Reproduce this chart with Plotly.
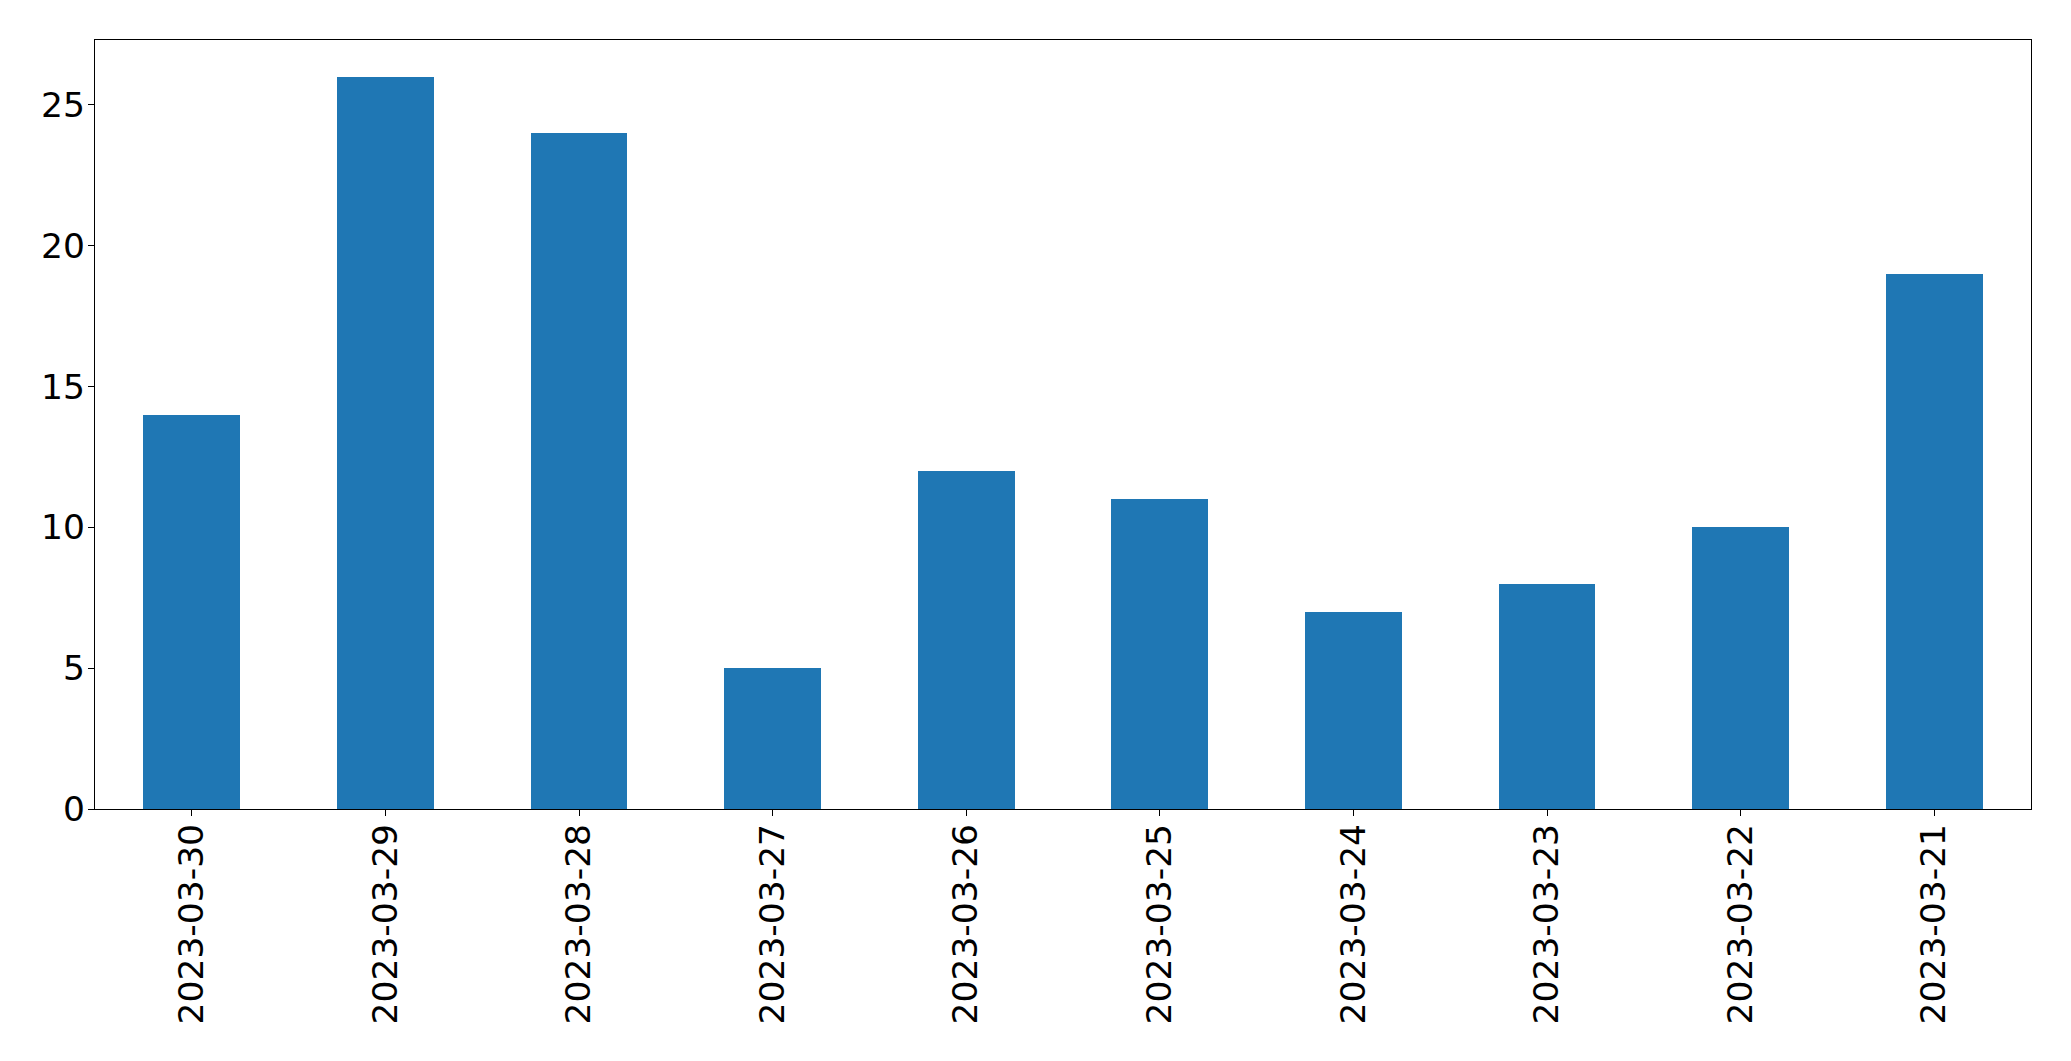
import plotly.graph_objects as go

dates = ["2023-03-30", "2023-03-29", "2023-03-28", "2023-03-27", "2023-03-26",
         "2023-03-25", "2023-03-24", "2023-03-23", "2023-03-22", "2023-03-21"]
counts = [14, 26, 24, 5, 12, 11, 7, 8, 10, 19]
y_ticks = [0, 5, 10, 15, 20, 25]

fig = go.Figure(go.Bar(x=dates, y=counts, width=0.5, marker=dict(color="#1f77b4", line=dict(width=0))))

W, H = 2071, 1061
FS = 34.5
fig.update_layout(
    width=W, height=H,
    margin=dict(l=94.5, r=40, t=39.5, b=252, pad=0),
    paper_bgcolor="white", plot_bgcolor="white",
    font=dict(family="DejaVu Sans", size=FS, color="black"),
    showlegend=False,
    bargap=0,
)
fig.update_xaxes(
    type="category", range=[-0.5, len(dates) - 0.5],
    showline=True, linecolor="black", linewidth=1.3, mirror=True,
    ticks="outside", ticklen=6, tickwidth=1.3, tickcolor="black",
    tickangle=-90, showgrid=False, zeroline=False,
    ticklabelstandoff=-6,
    tickfont=dict(family="DejaVu Sans", size=FS, color="black"),
)
fig.update_yaxes(
    range=[0, max(counts) * 1.05], tickvals=y_ticks,
    showline=True, linecolor="black", linewidth=1.3, mirror=True,
    ticks="outside", ticklen=6, tickwidth=1.3, tickcolor="black",
    showgrid=False, zeroline=False,
    ticklabelstandoff=-4,
    tickfont=dict(family="DejaVu Sans", size=FS, color="black"),
)
fig.write_html("out.html")
